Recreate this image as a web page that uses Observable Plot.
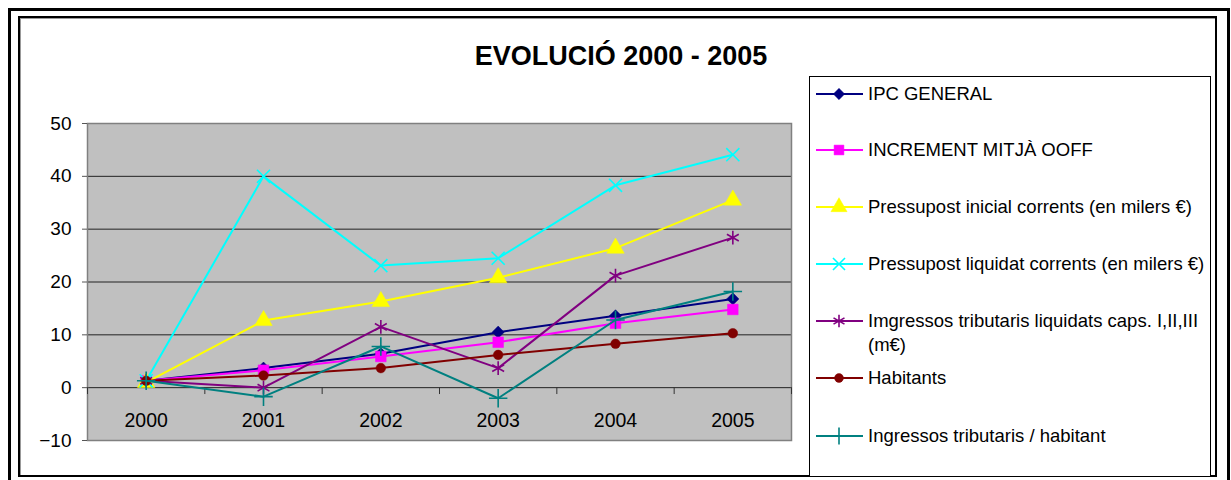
<!DOCTYPE html>
<html>
<head>
<meta charset="utf-8">
<script src="https://cdn.jsdelivr.net/npm/d3@7"></script>
<script src="https://cdn.jsdelivr.net/npm/@observablehq/plot@0.6"></script>
<style>
  html, body { margin: 0; padding: 0; background: #fff; }
  #wrap { position: relative; width: 1231px; height: 480px; overflow: hidden; background: #fff;
          font-family: "Liberation Sans", Arial, sans-serif; color: #000; }
  .abs { position: absolute; box-sizing: border-box; }
  #outer { left: 8px; top: 8px; width: 1222px; height: 480px; border: 3px solid #000; }
  #inner { left: 18px; top: 16px; width: 1199px; height: 461px; border: 2px solid #000;
           box-shadow: 1px 1px 0 #999 inset; }
  #title { left: 321px; top: 41px; width: 600px; text-align: center; font-size: 27px; font-weight: bold; line-height: 30px; white-space: nowrap; }
  #legend { left: 809px; top: 76px; width: 402px; height: 401px; border: 1px solid #000; background: #fff; }
  .ltext { position: absolute; left: 868px; font-size: 18.5px; line-height: 24px; white-space: nowrap; }
  .lsw { position: absolute; left: 812px; }
  #chart { position: absolute; left: 0; top: 0; }
</style>
</head>
<body>
<div id="wrap">
  <div id="outer" class="abs"></div>
  <div id="inner" class="abs"></div>
  <div id="title" class="abs">EVOLUCIÓ 2000 - 2005</div>
  <div id="legend" class="abs"></div>
  <div id="chart"></div>
</div>
<script>
// ---- Data ----
const years = ["2000", "2001", "2002", "2003", "2004", "2005"];
const ipcGeneral          = [1.3, 3.7, 6.4, 10.5, 13.6, 16.8];
const incrementMitja      = [1.3, 3.3, 5.9, 8.6, 12.2, 14.8];
const pressupostInicial   = [1.0, 12.7, 16.3, 20.8, 26.4, 35.5];
const pressupostLiquidat  = [1.3, 40.0, 23.1, 24.5, 38.3, 44.1];
const imgressosTributaris = [1.3, 0.0, 11.5, 3.7, 21.2, 28.4];
const habitants           = [1.3, 2.3, 3.7, 6.2, 8.3, 10.3];
const ingressosHabitant   = [1.3, -1.7, 7.8, -2.0, 12.8, 18.2];
const seriesNames = [
  "IPC GENERAL",
  "INCREMENT MITJÀ OOFF",
  "Pressupost inicial corrents (en milers €)",
  "Pressupost liquidat corrents (en milers €)",
  "Imgressos tributaris liquidats caps. I,II,III<br>(m€)",
  "Habitants",
  "Ingressos tributaris / habitant"
];
const yTicks = [-10, 0, 10, 20, 30, 40, 50];

// ---- Styles ----
const seriesValues = [ipcGeneral, incrementMitja, pressupostInicial, pressupostLiquidat, imgressosTributaris, habitants, ingressosHabitant];
const styles = [
  {color: "#000080", symbol: "diamond2", filled: true,  r: 5.5},
  {color: "#ff00ff", symbol: "square",   filled: true,  r: 6},
  {color: "#ffff00", symbol: "triangle", filled: true,  r: 6.5},
  {color: "#00ffff", symbol: "times",    filled: false, r: 6},
  {color: "#800080", symbol: "asterisk", filled: false, r: 6.5},
  {color: "#800000", symbol: "circle",   filled: true,  r: 4.8},
  {color: "#008080", symbol: "plus",     filled: false, r: 6}
];
const legendRows = [94, 150, 207, 264, 321, 378, 436];

const boundaries = d3.range(-0.5, years.length, 1);

const marks = [
  Plot.frame({fill: "#c0c0c0"}),
  Plot.ruleY(yTicks, {stroke: "#222", strokeWidth: 1}),
  Plot.frame({stroke: "#808080", strokeWidth: 1.5}),
  Plot.axisY(yTicks, {tickSize: 5, tickPadding: 11, fontSize: 19, stroke: "#555"}),
  Plot.ruleX(boundaries, {y1: 0, y2: -1.3, stroke: "#333", strokeWidth: 1}),
  Plot.text(years, {x: (d, i) => i, y: () => 0, text: d => d, dy: 33, fontSize: 19.5})
];
seriesValues.forEach((vals, s) => {
  const st = styles[s];
  marks.push(Plot.line(vals, {x: (d, i) => i, y: d => d, stroke: st.color, strokeWidth: 2}));
  marks.push(Plot.dot(vals, {
    x: (d, i) => i, y: d => d, symbol: st.symbol, r: st.r,
    fill: st.filled ? st.color : "none", stroke: st.color, strokeWidth: st.filled ? 0.5 : 1.6
  }));
});

const chart = Plot.plot({
  width: 1231, height: 480,
  marginLeft: 87, marginRight: 440, marginTop: 123, marginBottom: 40,
  style: {background: "none", fontFamily: "'Liberation Sans', Arial, sans-serif", fontSize: "19px", color: "#000", overflow: "visible"},
  x: {type: "linear", domain: [-0.5, 5.5], axis: null},
  y: {domain: [-10, 50], axis: null},
  marks
});
document.getElementById("chart").appendChild(chart);

// ---- Legend ----
const wrap = document.getElementById("wrap");
const symMap = {diamond2: d3.symbolDiamond2, square: d3.symbolSquare, triangle: d3.symbolTriangle,
  times: d3.symbolTimes, asterisk: d3.symbolAsterisk, circle: d3.symbolCircle, plus: d3.symbolPlus};
seriesNames.forEach((name, s) => {
  const st = styles[s];
  const yc = legendRows[s];
  const svg = d3.create("svg").attr("class", "lsw").attr("width", 54).attr("height", 20)
    .style("top", (yc - 10) + "px");
  svg.append("line").attr("x1", 4).attr("x2", 51).attr("y1", 10).attr("y2", 10)
    .attr("stroke", st.color).attr("stroke-width", 2);
  svg.append("path").attr("transform", "translate(27,10)")
    .attr("d", d3.symbol(symMap[st.symbol], Math.PI * st.r * st.r * 0.85)())
    .attr("fill", st.filled ? st.color : "none").attr("stroke", st.color)
    .attr("stroke-width", st.filled ? 0.5 : 1.6);
  wrap.appendChild(svg.node());
  const t = document.createElement("div");
  t.className = "ltext";
  t.style.top = (yc - 12) + "px";
  t.innerHTML = name;
  wrap.appendChild(t);
});
</script>
</body>
</html>
